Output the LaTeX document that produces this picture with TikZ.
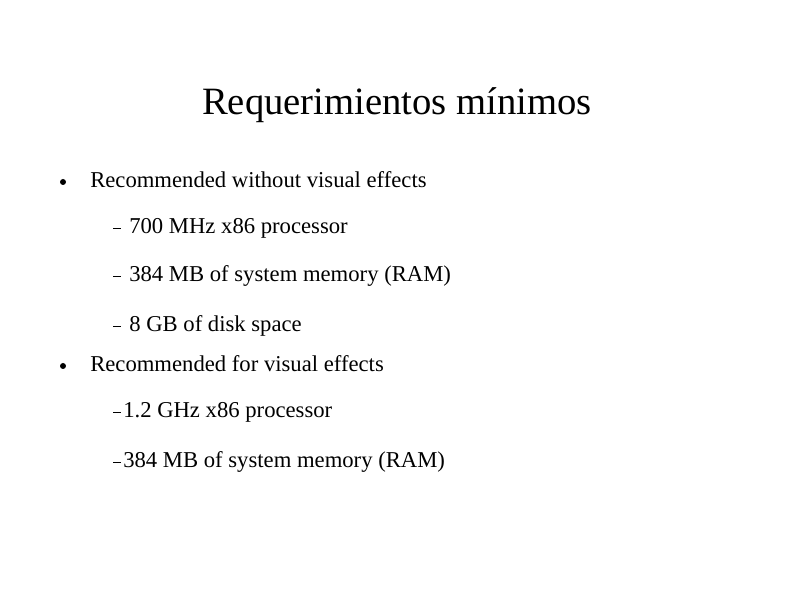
\documentclass[tikz,border=0pt]{standalone}
\usepackage{fontspec}
\setmainfont{Liberation Serif}
\begin{document}
\begin{tikzpicture}[x=0.75pt,y=-0.75pt,
    item/.style={anchor=base west,inner sep=0pt,font=\fontsize{17}{20}\selectfont},
    dot/.style={circle,fill=black,inner sep=0pt,minimum size=4.5pt},
    dashmark/.style={draw=black,line width=0.6pt}]
  \useasboundingbox (0,0) rectangle (794,595);
  \node[anchor=base,inner sep=0pt,font=\fontsize{29}{34}\selectfont] (title) at (397,115) {Requerimientos mínimos};
  % first group
  \node[dot] (b1) at (63,182) {};
  \node[item] (t1) at (90,188) {Recommended without visual effects};
  \foreach \y/\txt [count=\i] in {234/700 MHz x86 processor,282/384 MB of system memory (RAM),332/8 GB of disk space}
    {\draw[dashmark] (113,\y-6) -- (121,\y-6);
     \node[item] (s1\i) at (129,\y) {\txt};}
  % second group
  \node[dot] (b2) at (63,366) {};
  \node[item] (t2) at (90,372) {Recommended for visual effects};
  \foreach \y/\txt [count=\i] in {418/1.2 GHz x86 processor,468/384 MB of system memory (RAM)}
    {\draw[dashmark] (113,\y-6) -- (121,\y-6);
     \node[item] (s2\i) at (123,\y) {\txt};}
\end{tikzpicture}
\end{document}
